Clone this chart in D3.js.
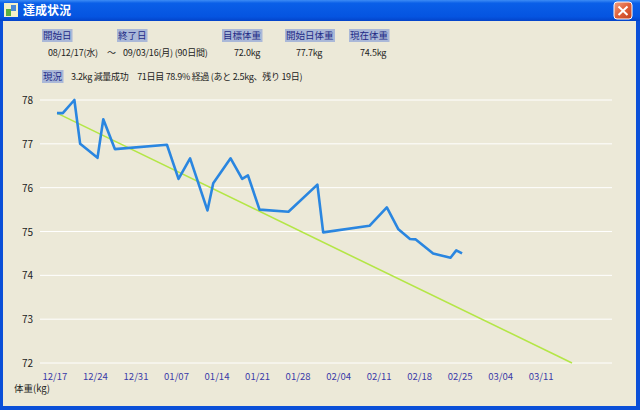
<!DOCTYPE html>
<html>
<head>
<meta charset="utf-8">
<script src="https://cdn.jsdelivr.net/npm/d3@7"></script>
<style>
  body { margin: 0; background: #ece9d8; }
  svg { display: block; }
</style>
</head>
<body>
<svg id="chart" width="640" height="410"></svg>
<script>
// recorded weights (kg)
const dates = ["2008-12-17", "2008-12-18", "2008-12-20", "2008-12-21", "2008-12-24", "2008-12-25",
    "2008-12-27", "2009-01-05", "2009-01-07", "2009-01-09", "2009-01-12", "2009-01-13",
    "2009-01-16", "2009-01-18", "2009-01-19", "2009-01-21", "2009-01-26", "2009-01-31",
    "2009-02-01", "2009-02-09", "2009-02-12", "2009-02-14", "2009-02-16", "2009-02-17",
    "2009-02-20", "2009-02-23", "2009-02-24", "2009-02-25"];
const weights = [77.7, 77.7, 78.0, 77.0, 76.68, 77.56, 76.88, 76.98, 76.2, 76.67, 75.48, 76.1,
    76.67, 76.2, 76.28, 75.5, 75.45, 76.07, 74.98, 75.13, 75.55, 75.05, 74.83, 74.82,
    74.5, 74.4, 74.57, 74.5];

// target line: start weight -> goal weight
const targetDates = ["2008-12-17", "2009-03-16"];
const targetWeights = [77.7, 72.0];

const yTicks = [72, 73, 74, 75, 76, 77, 78];

// header info
const headLabels = ["開始日", "終了日", "目標体重", "開始日体重", "現在体重"];
const headValues = ["08/12/17(水)", "～", "09/03/16(月) (90日間)", "72.0kg", "77.7kg", "74.5kg"];
const statusLabel = "現況";
const statusText = "3.2kg 減量成功　71日目 78.9% 経過 (あと 2.5kg、残り 19日)";

const parse = d3.timeParse("%Y-%m-%d");
const svg = d3.select("#chart");
const font = "'Noto Sans CJK JP', 'DejaVu Sans', sans-serif";

// ---- window chrome ----
const defs = svg.append("defs");
const g1 = defs.append("linearGradient").attr("id", "titlebar").attr("x1", 0).attr("y1", 0).attr("x2", 0).attr("y2", 1);
g1.append("stop").attr("offset", "0%").attr("stop-color", "#3d8cf5");
g1.append("stop").attr("offset", "15%").attr("stop-color", "#0a5fe8");
g1.append("stop").attr("offset", "80%").attr("stop-color", "#0554e0");
g1.append("stop").attr("offset", "100%").attr("stop-color", "#0343c9");
const g2 = defs.append("linearGradient").attr("id", "closebtn").attr("x1", 0).attr("y1", 0).attr("x2", 1).attr("y2", 1);
g2.append("stop").attr("offset", "0%").attr("stop-color", "#f0a080");
g2.append("stop").attr("offset", "50%").attr("stop-color", "#e0603a");
g2.append("stop").attr("offset", "100%").attr("stop-color", "#c0401e");

svg.append("rect").attr("width", 640).attr("height", 410).attr("fill", "#0a4fd8");
svg.append("rect").attr("x", 0).attr("y", 0).attr("width", 640).attr("height", 21).attr("fill", "url(#titlebar)");
svg.append("rect").attr("x", 3).attr("y", 21).attr("width", 633).attr("height", 385).attr("fill", "#ece9d8");

// icon
svg.append("rect").attr("x", 4).attr("y", 3).attr("width", 14).attr("height", 14).attr("fill", "#f4f0c8");
svg.append("rect").attr("x", 6).attr("y", 9).attr("width", 5).attr("height", 7).attr("fill", "#5ab040");
svg.append("rect").attr("x", 11).attr("y", 5).attr("width", 5).attr("height", 6).attr("fill", "#4a8ad8");
svg.append("text").attr("x", 23).attr("y", 15).attr("fill", "#fff")
    .attr("font-family", font).attr("font-weight", "bold").attr("font-size", 12)
    .text("達成状況");

// close button
svg.append("rect").attr("x", 614).attr("y", 2).attr("width", 18).attr("height", 17).attr("rx", 3)
    .attr("fill", "url(#closebtn)").attr("stroke", "#fff").attr("stroke-width", 1);
svg.append("path").attr("d", "M618.5,6.5 L627.5,15 M627.5,6.5 L618.5,15")
    .attr("stroke", "#fff").attr("stroke-width", 2);

// ---- header info ----
function label(t, lx, ly) {
    const txt = svg.append("text").attr("x", lx + 1).attr("y", ly)
        .attr("font-family", font).attr("font-size", 9.5).attr("fill", "#1e2a86").text(t);
    const bb = txt.node().getBBox();
    svg.insert("rect", "text:last-of-type").attr("x", bb.x - 1).attr("y", ly - 10)
        .attr("width", bb.width + 2).attr("height", 13).attr("fill", "#aab8d8");
}
const labelX = [42, 117, 222, 285, 349];
headLabels.forEach((t, i) => label(t, labelX[i], 39));
const valueX = [48, 107, 123, 234, 296, 360];
headValues.forEach((t, i) => {
    svg.append("text").attr("x", valueX[i]).attr("y", 56)
        .attr("font-family", font).attr("font-size", 9).attr("letter-spacing", -0.2)
        .attr("fill", "#222").text(t);
});
label(statusLabel, 42, 80);
svg.append("text").attr("x", 71).attr("y", 80)
    .attr("font-family", font).attr("font-size", 9).attr("letter-spacing", -0.3)
    .attr("fill", "#222").text(statusText);

// ---- chart ----
const x = d3.scaleTime().domain([parse("2008-12-17"), parse("2009-03-16")]).range([57, 572]);
const y = d3.scaleLinear().domain([72, 78]).range([363, 100]);

// gridlines
svg.append("g").selectAll("line").data(yTicks).join("line")
    .attr("x1", 40).attr("x2", 612)
    .attr("y1", d => y(d)).attr("y2", d => y(d))
    .attr("stroke", "#fff").attr("stroke-width", 1);

// y labels
svg.append("g").selectAll("text").data(yTicks).join("text")
    .attr("x", 33).attr("y", d => y(d) + 4).attr("text-anchor", "end")
    .attr("font-family", font).attr("font-size", 10).attr("fill", "#222")
    .text(d => d);

// x labels (weekly)
const weekTicks = d3.range(0, 13).map(i => d3.timeDay.offset(parse("2008-12-17"), i * 7));
svg.append("g").selectAll("text").data(weekTicks).join("text")
    .attr("x", d => x(d) - 2).attr("y", 380).attr("text-anchor", "middle")
    .attr("font-family", font).attr("font-size", 9.5).attr("fill", "#3a3aa8")
    .text(d3.timeFormat("%m/%d"));

svg.append("text").attr("x", 14).attr("y", 392)
    .attr("font-family", font).attr("font-size", 9.5).attr("fill", "#222").text("体重(kg)");

// target line
const target = targetDates.map((d, i) => ({ date: parse(d), w: targetWeights[i] }));
svg.append("path").datum(target)
    .attr("d", d3.line().x(d => x(d.date)).y(d => y(d.w)))
    .attr("fill", "none").attr("stroke", "#b4e646").attr("stroke-width", 1.6);

// weight line
const series = dates.map((d, i) => ({ date: parse(d), w: weights[i] }));
svg.append("path").datum(series)
    .attr("d", d3.line().x(d => x(d.date)).y(d => y(d.w)))
    .attr("fill", "none").attr("stroke", "#2a86e0").attr("stroke-width", 2.6)
    .attr("stroke-linejoin", "round");
</script>
</body>
</html>
